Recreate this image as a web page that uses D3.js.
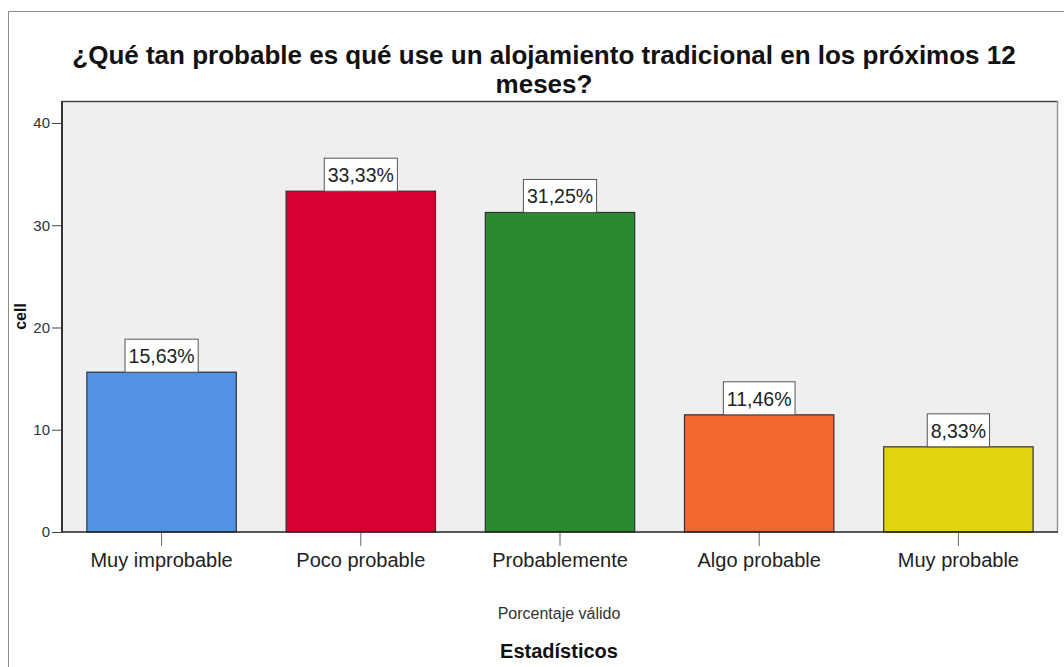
<!DOCTYPE html>
<html>
<head>
<meta charset="utf-8">
<script src="https://cdn.jsdelivr.net/npm/d3@7/dist/d3.min.js"></script>
<style>
  html, body { margin: 0; padding: 0; background: #fff; }
  svg { display: block; font-family: "Liberation Sans", Arial, sans-serif; }
</style>
</head>
<body>
<svg id="chart" width="1064" height="667"></svg>
<script>
// Response categories and valid percentages
const categories = ["Muy improbable", "Poco probable", "Probablemente", "Algo probable", "Muy probable"];
const values = [15.63, 33.33, 31.25, 11.46, 8.33];
const barColors = ["#5193e2", "#d70032", "#2a8a2d", "#f2682f", "#e1d50f"];
const yTicks = [0, 10, 20, 30, 40];

const titleLines = ["¿Qué tan probable es qué use un alojamiento tradicional en los próximos 12", "meses?"];
const yLabel = "cell";
const xLabel = "Porcentaje válido";
const footer = "Estadísticos";

const svg = d3.select("#chart");
const W = 1064, H = 667;
const plot = { left: 62, top: 101, right: 1058, bottom: 532 };
const FONT = "Liberation Sans, Arial, sans-serif";

// Outer frame (top and left edges visible)
svg.append("path")
  .attr("d", `M8.5,${H} V11.5 H${W}`)
  .attr("fill", "none").attr("stroke", "#8c8c8c").attr("stroke-width", 1);

const x = d3.scaleBand().domain(categories).range([plot.left, plot.right]).paddingInner(0.25).paddingOuter(0.125);
const y = d3.scaleLinear().domain([0, 42.15]).range([plot.bottom, plot.top]);

// Plot background
svg.append("rect")
  .attr("x", plot.left).attr("y", plot.top)
  .attr("width", plot.right - plot.left).attr("height", plot.bottom - plot.top)
  .attr("fill", "#efefef");

// Plot frame: top and right
svg.append("line").attr("x1", plot.left).attr("x2", plot.right).attr("y1", plot.top + 0.5).attr("y2", plot.top + 0.5)
  .attr("stroke", "#444").attr("stroke-width", 1.5);
svg.append("line").attr("x1", plot.right - 0.5).attr("x2", plot.right - 0.5).attr("y1", plot.top).attr("y2", plot.bottom)
  .attr("stroke", "#999").attr("stroke-width", 1.5);

// Bars
svg.append("g").selectAll("rect").data(values).join("rect")
  .attr("x", (d, i) => x(categories[i]))
  .attr("y", d => y(d))
  .attr("width", x.bandwidth())
  .attr("height", d => y(0) - y(d))
  .attr("fill", (d, i) => barColors[i])
  .attr("stroke", "#333").attr("stroke-width", 1.2);

// Y axis
const yAxis = svg.append("g").attr("transform", `translate(${plot.left},0)`)
  .call(d3.axisLeft(y).tickValues(yTicks).tickSize(10).tickPadding(2).tickFormat(d3.format("d")));
yAxis.select(".domain").remove();
yAxis.selectAll(".tick line").attr("stroke", "#444");
yAxis.selectAll(".tick text").attr("font-size", 15).attr("fill", "#333").attr("font-family", FONT);
svg.append("line").attr("x1", plot.left).attr("x2", plot.left).attr("y1", plot.top).attr("y2", plot.bottom)
  .attr("stroke", "#333").attr("stroke-width", 2);

// X axis
const xAxis = svg.append("g").attr("transform", `translate(0,${plot.bottom})`)
  .call(d3.axisBottom(x).tickSize(14).tickPadding(7));
xAxis.select(".domain").remove();
xAxis.selectAll(".tick line").attr("stroke", "#666");
xAxis.selectAll(".tick text").attr("font-size", 20).attr("fill", "#222").attr("font-family", FONT);
svg.append("line").attr("x1", plot.left).attr("x2", plot.right).attr("y1", plot.bottom).attr("y2", plot.bottom)
  .attr("stroke", "#222").attr("stroke-width", 1.5);

// Value labels in boxes
const labelFmt = v => v.toFixed(2).replace(".", ",") + "%";
const labels = svg.append("g").selectAll("g").data(values).join("g")
  .attr("transform", (d, i) => `translate(${x(categories[i]) + x.bandwidth() / 2},${y(d)})`);
labels.append("text")
  .attr("text-anchor", "middle").attr("y", -9)
  .attr("font-size", 19.5).attr("fill", "#222")
  .text(d => labelFmt(d))
  .each(function () {
    const b = this.getBBox();
    d3.select(this.parentNode).insert("rect", "text")
      .attr("x", -(b.width + 7) / 2).attr("y", -33)
      .attr("width", b.width + 7).attr("height", 33)
      .attr("fill", "#fff").attr("stroke", "#555").attr("stroke-width", 1);
  });

// Title, two lines
svg.append("text").attr("text-anchor", "middle")
  .attr("font-size", 26).attr("font-weight", "bold").attr("fill", "#111")
  .selectAll("tspan").data(titleLines).join("tspan")
  .attr("x", 544).attr("y", (d, i) => 64 + i * 29).text(d => d);

// Axis titles
svg.append("text").attr("transform", `translate(26,${(plot.top + plot.bottom) / 2}) rotate(-90)`)
  .attr("text-anchor", "middle").attr("font-size", 16).attr("font-weight", "bold").attr("fill", "#111")
  .text(yLabel);
svg.append("text").attr("x", 559).attr("y", 619).attr("text-anchor", "middle")
  .attr("font-size", 16).attr("fill", "#333").text(xLabel);
svg.append("text").attr("x", 559).attr("y", 658).attr("text-anchor", "middle")
  .attr("font-size", 20).attr("font-weight", "bold").attr("fill", "#111").text(footer);
</script>
</body>
</html>
